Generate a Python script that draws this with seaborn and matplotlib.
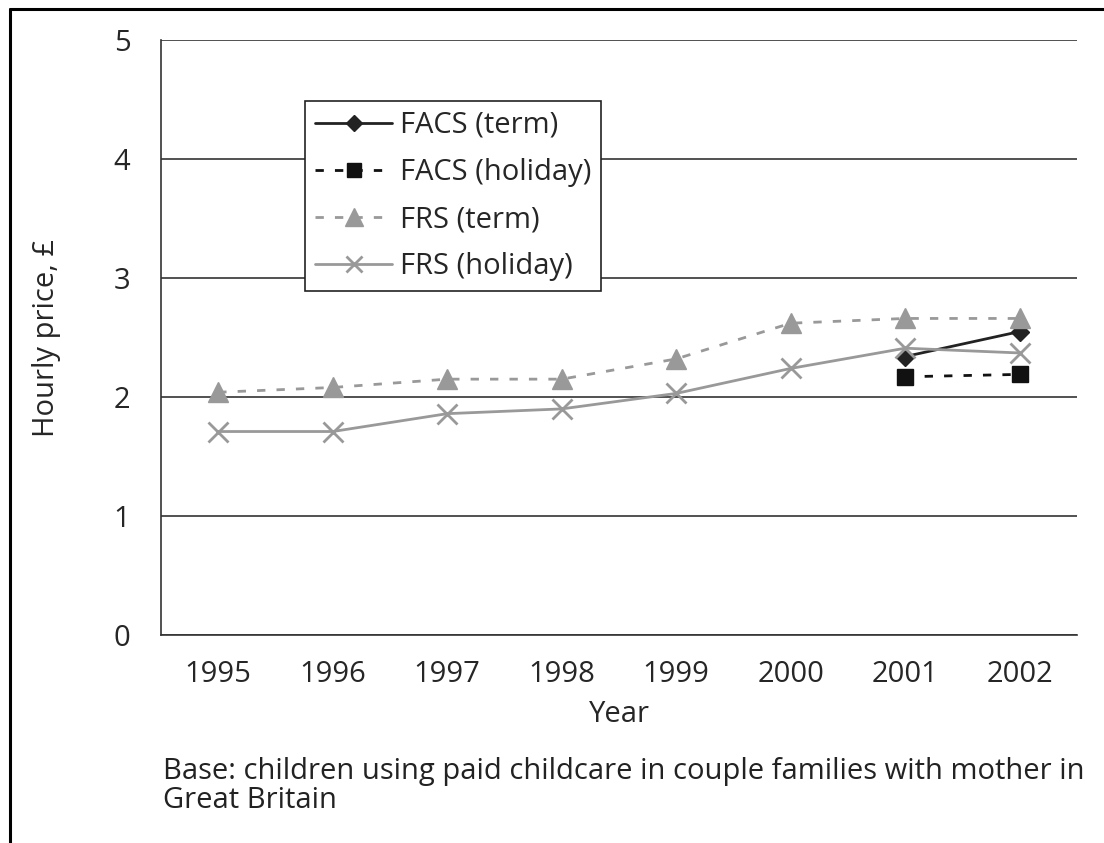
import matplotlib
matplotlib.use("Agg")
import matplotlib.pyplot as plt
from matplotlib.lines import Line2D
import numpy as np
import pandas as pd
import seaborn as sns

# Données
years = [1995, 1996, 1997, 1998, 1999, 2000, 2001, 2002]
facs_term = [np.nan, np.nan, np.nan, np.nan, np.nan, np.nan, 2.34, 2.55]
facs_holiday = [np.nan, np.nan, np.nan, np.nan, np.nan, np.nan, 2.17, 2.19]
frs_term = [2.04, 2.08, 2.15, 2.15, 2.32, 2.62, 2.66, 2.66]
frs_holiday = [1.71, 1.71, 1.86, 1.90, 2.03, 2.24, 2.41, 2.37]
series_names = ["FACS (term)", "FACS (holiday)", "FRS (term)", "FRS (holiday)"]

sns.set_style("white")
plt.rcParams['font.family'] = ['Open Sans', 'DejaVu Sans']

df = pd.DataFrame({
    "pos": np.arange(len(years)),
    "FACS (term)": facs_term,
    "FACS (holiday)": facs_holiday,
    "FRS (term)": frs_term,
    "FRS (holiday)": frs_holiday,
})

styles = {
    "FACS (term)": dict(color="#222222", ls="-", marker="D", ms=9),
    "FACS (holiday)": dict(color="#111111", ls=(0, (3, 4)), marker="s", ms=12),
    "FRS (term)": dict(color="#999999", ls=(0, (3, 4)), marker="^", ms=15),
    "FRS (holiday)": dict(color="#999999", ls="-", marker="x", ms=14),
}

fig = plt.figure(figsize=(11.04, 8.43), dpi=100)
ax = fig.add_axes([0.1458, 0.2467, 0.8297, 0.7059])

handles = []
for name in series_names:
    st = styles[name]
    mew = 2 if st["marker"] == "x" else 1
    sns.lineplot(data=df, x="pos", y=name, ax=ax, color=st["color"],
                 linestyle=st["ls"], marker=st["marker"], markersize=st["ms"],
                 markeredgecolor=st["color"], markeredgewidth=mew, lw=2)
    handles.append(Line2D([], [], color=st["color"], ls=st["ls"], lw=2,
                          marker=st["marker"], ms=st["ms"] * 0.85,
                          markeredgecolor=st["color"], markeredgewidth=mew))

fs = 21
ax.set_xlim(-0.5, len(years) - 0.5)
ax.set_ylim(0, 5)
ax.set_yticks(range(6))
ax.set_xticks(np.arange(len(years)))
ax.set_xticklabels([str(y) for y in years], fontsize=fs)
ax.set_xticks(np.arange(-0.5, len(years)), minor=True)
ax.tick_params(axis="x", which="major", length=0, pad=18)
ax.tick_params(axis="x", which="minor", length=8, width=1.2, direction="out", color="#333333")
ax.tick_params(axis="y", length=8, width=1.2, direction="out", color="#333333", labelsize=fs, pad=14)
ax.yaxis.grid(True, color="#333333", lw=1.2)
ax.set_axisbelow(True)
for s in ["top", "right"]:
    ax.spines[s].set_visible(False)
for s in ["left", "bottom"]:
    ax.spines[s].set_color("#333333")
    ax.spines[s].set_linewidth(1.2)
ax.set_xlabel("Year", fontsize=fs, labelpad=8)
ax.set_ylabel("Hourly price, £", fontsize=fs, labelpad=38)

leg = ax.legend(handles, series_names, loc="upper left", bbox_to_anchor=(0.157, 0.898),
                fontsize=fs, frameon=True, fancybox=False, handlelength=2.65,
                labelspacing=0.62, borderpad=0.35, handletextpad=0.25, borderaxespad=0)
leg.get_frame().set_edgecolor("#222222")
leg.get_frame().set_linewidth(1.2)
leg.get_frame().set_alpha(1)

fig.text(163 / 1104, 1 - 786 / 843, "Base: children using paid childcare in couple families with mother in\nGreat Britain",
         fontsize=fs, va="center", ha="left", linespacing=1.0, color="#222222")

# cadre partiel
fig.add_artist(Line2D([10 / 1104, 10 / 1104], [0, 1 - 9 / 843], color="black", lw=2.2))
fig.add_artist(Line2D([10 / 1104, 1], [1 - 9 / 843, 1 - 9 / 843], color="black", lw=2.2))

fig.savefig("out.png", dpi=100)
